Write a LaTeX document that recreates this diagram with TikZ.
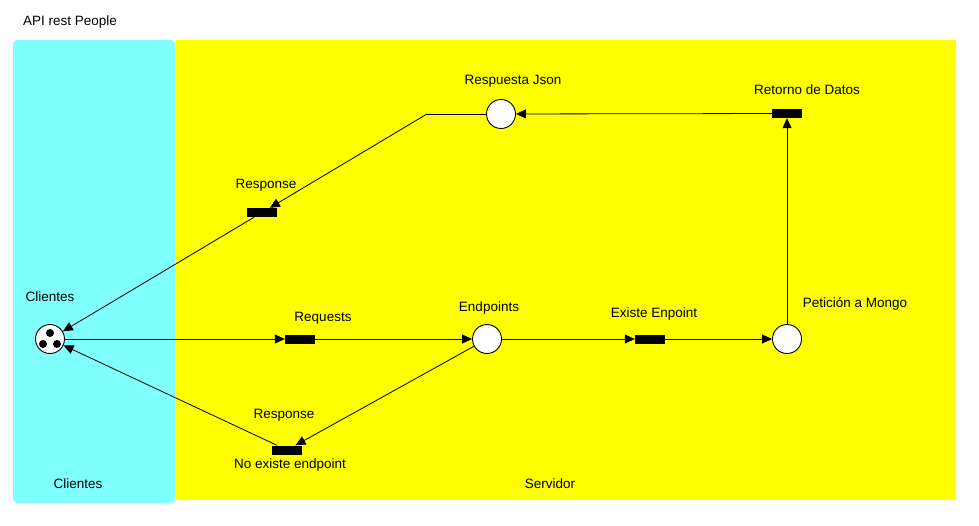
\documentclass[tikz,border=0pt]{standalone}
\usepackage{fontspec}
\setmainfont{Liberation Sans}
\usetikzlibrary{arrows.meta}
\definecolor{aqua}{HTML}{80FFFF}
\definecolor{yel}{HTML}{FFFF00}
\begin{document}
\begin{tikzpicture}[x=1pt,y=-1pt,
  every node/.style={font=\fontsize{13.5}{16}\selectfont},
  place/.style={circle,draw,fill=white,minimum size=29pt,inner sep=0pt,line width=0.9pt},
  trans/.style={rectangle,fill=black,minimum width=30pt,minimum height=9pt,inner sep=0pt},
  arc/.style={line width=0.8pt,-{Triangle[length=10pt,width=9pt]}},
  lbl/.style={inner sep=0pt}]
\useasboundingbox (0,0) rectangle (979,525);
\fill[white] (0,0) rectangle (979,525);
% regions
\fill[yel] (176,40) rectangle (956,500);
\fill[aqua,rounded corners=4pt] (13,40) rectangle (175,503);
\node[lbl] (title) at (70,22) {API rest People};
\node[lbl] (regc) at (78,484) {Clientes};
\node[lbl] (regs) at (550,484) {Servidor};
% places
\node[place] (cl) at (50,339) {};
\fill (50,333) circle (4pt) (43,344) circle (4pt) (57,344) circle (4pt);
\node[place] (ep) at (487,339) {};
\node[place] (pm) at (787,339) {};
\node[place] (rj) at (501,114) {};
% transitions
\node[trans] (rq) at (300,339) {};
\node[trans] (ee) at (650,339) {};
\node[trans] (rd) at (787,113.5) {};
\node[trans] (rt) at (262,212.5) {};
\node[trans] (rb) at (287,450) {};
% labels
\node[lbl] at (50,297) {Clientes};
\node[lbl] at (323,318) {Requests};
\node[lbl] at (489,308) {Endpoints};
\node[lbl] at (654,314) {Existe Enpoint};
\node[lbl] at (855,304) {Petición a Mongo};
\node[lbl] at (807,90) {Retorno de Datos};
\node[lbl] at (513,81) {Respuesta Json};
\node[lbl] at (266,185) {Response};
\node[lbl] at (284,415) {Response};
\node[lbl] at (290,465) {No existe endpoint};
% arcs
\coordinate (bend) at (427,114);
\draw[arc] (cl) -- (rq);
\draw[arc] (rq) -- (ep);
\draw[arc] (ep) -- (ee);
\draw[arc] (ee) -- (pm);
\draw[arc] (pm) -- (rd);
\draw[arc] (rd) -- (rj);
\draw[line width=0.8pt] (rj) -- (bend);
\draw[arc] (bend) -- (rt);
\draw[arc] (rt) -- (cl);
\draw[arc] (ep) -- (rb);
\draw[arc] (rb) -- (cl);
\end{tikzpicture}
\end{document}
